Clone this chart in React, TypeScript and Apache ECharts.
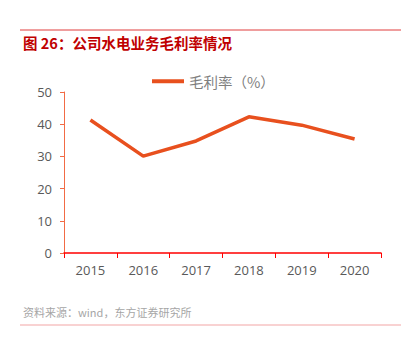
import React, { useEffect, useRef } from "react";
import * as echarts from "echarts";

const categories = ["2015", "2016", "2017", "2018", "2019", "2020"];
const grossMargin = [41.3, 30.1, 34.8, 42.3, 39.7, 35.4];
const seriesName = "毛利率（%）";
const titleText = "图 26：公司水电业务毛利率情况";
const sourceText = "资料来源：wind，东方证券研究所";

const CJK = '"Noto Sans CJK SC", "Noto Sans", sans-serif';
const NUM = '"Open Sans", "Noto Sans", sans-serif';

export default function App() {
  const ref = useRef<HTMLDivElement>(null);
  useEffect(() => {
    if (!ref.current) return;
    const chart = echarts.init(ref.current, undefined, { renderer: "svg" });
    chart.setOption({
      animation: false,
      backgroundColor: "#ffffff",
      legend: {
        left: 147,
        top: 69,
        icon: "rect",
        itemWidth: 32,
        itemHeight: 4,
        itemGap: 4,
        textStyle: { color: "#7f7f7f", fontSize: 14.5, fontFamily: CJK },
        data: [seriesName],
      },
      grid: { left: 64, right: 29, top: 92, bottom: 103 },
      xAxis: {
        type: "category",
        data: categories,
        boundaryGap: true,
        axisLine: { lineStyle: { color: "#ff0000", width: 1.5 } },
        axisTick: { show: true, length: 5, lineStyle: { color: "#ff0000" } },
        axisLabel: { color: "#595959", fontSize: 13, fontFamily: NUM, margin: 10 },
      },
      yAxis: {
        type: "value",
        min: 0,
        max: 50,
        interval: 10,
        splitLine: { show: false },
        axisLine: { show: true, lineStyle: { color: "#f26b45", width: 1 } },
        axisTick: { show: true, length: 4, lineStyle: { color: "#f26b45" } },
        axisLabel: { color: "#595959", fontSize: 13, fontFamily: NUM, margin: 12 },
      },
      series: [
        {
          name: seriesName,
          type: "line",
          data: grossMargin,
          symbol: "none",
          lineStyle: { color: "#e8501e", width: 3.5 },
          itemStyle: { color: "#e8501e" },
        },
      ],
      graphic: [
        {
          type: "line",
          shape: { x1: 20, y1: 30, x2: 401, y2: 30 },
          style: { stroke: "#e03c3c", lineWidth: 1 },
        },
        {
          type: "text",
          left: 23,
          top: 35,
          style: {
            text: titleText,
            fill: "#c00000",
            font: `bold 14.5px ${CJK}`,
          },
        },
        {
          type: "text",
          left: 23,
          top: 306,
          style: {
            text: sourceText,
            fill: "#a6a6a6",
            font: `11px ${CJK}`,
          },
        },
        {
          type: "line",
          shape: { x1: 20, y1: 325, x2: 401, y2: 325 },
          style: { stroke: "#f2a5a5", lineWidth: 1 },
        },
      ],
    });
    return () => chart.dispose();
  }, []);
  return (
    <div
      ref={ref}
      style={{ position: "fixed", left: 0, top: 0, width: 410, height: 356 }}
    />
  );
}
